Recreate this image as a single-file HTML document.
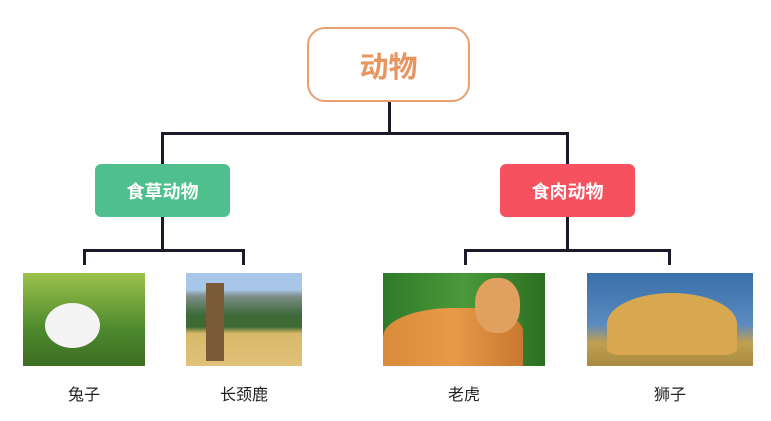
<!DOCTYPE html>
<html><head><meta charset="utf-8"><style>
body{margin:0;width:771px;height:421px;background:#fff;position:relative;overflow:hidden;font-family:"Liberation Sans","Noto Sans CJK SC",sans-serif}
.a{position:absolute}
.l{position:absolute;background:#1a1a2a}
.box{position:absolute;display:flex;align-items:center;justify-content:center;font-weight:bold;color:#fff;border-radius:6px;font-size:18px}
.lbl{position:absolute;width:100px;text-align:center;font-size:16px;color:#222;top:381px}
</style></head><body>
<div class="box" style="left:307px;top:27px;width:159px;height:71px;border:2px solid #e8a070;border-radius:18px;color:#e8955f;font-size:29px;background:#fff">动物</div>
<div class="l" style="left:388px;top:102px;width:3px;height:31px"></div>
<div class="l" style="left:161px;top:132px;width:408px;height:3px"></div>
<div class="l" style="left:161px;top:132px;width:3px;height:32px"></div>
<div class="l" style="left:566px;top:132px;width:3px;height:32px"></div>
<div class="box" style="left:95px;top:164px;width:135px;height:53px;background:#4fc08d">食草动物</div>
<div class="box" style="left:500px;top:164px;width:135px;height:53px;background:#f5515f">食肉动物</div>
<div class="l" style="left:161px;top:217px;width:3px;height:34px"></div>
<div class="l" style="left:83px;top:249px;width:162px;height:3px"></div>
<div class="l" style="left:83px;top:249px;width:3px;height:16px"></div>
<div class="l" style="left:242px;top:249px;width:3px;height:16px"></div>
<div class="l" style="left:566px;top:217px;width:3px;height:34px"></div>
<div class="l" style="left:464px;top:249px;width:207px;height:3px"></div>
<div class="l" style="left:464px;top:249px;width:3px;height:16px"></div>
<div class="l" style="left:668px;top:249px;width:3px;height:16px"></div>
<div class="a" style="left:23px;top:273px;width:122px;height:93px;background:linear-gradient(180deg,#9bc24a,#4e8a2e 60%,#3d6e22)"><div class="a" style="left:22px;top:30px;width:55px;height:45px;border-radius:50%;background:#f4f4f4"></div></div>
<div class="a" style="left:186px;top:273px;width:116px;height:93px;background:linear-gradient(180deg,#a8c6e8 0,#a8c6e8 18%,#7d8f88 25%,#3f6a3a 45%,#3d6a32 58%,#d8b868 65%,#e2c27a)"><div class="a" style="left:20px;top:10px;width:18px;height:78px;background:#7a5a38"></div></div>
<div class="a" style="left:383px;top:273px;width:162px;height:93px;background:linear-gradient(90deg,#2f7a2a,#4a9a3a 50%,#2c6e22)"><div class="a" style="left:0;top:35px;width:140px;height:58px;border-radius:50% 40% 0 0;background:linear-gradient(90deg,#d98a3a,#e89a48,#c87830)"></div><div class="a" style="left:92px;top:5px;width:45px;height:55px;border-radius:45%;background:#e0a060"></div></div>
<div class="a" style="left:587px;top:273px;width:166px;height:93px;background:linear-gradient(180deg,#3a6fa8,#5a8ac0 55%,#c0a050 75%,#a88a40)"><div class="a" style="left:20px;top:20px;width:130px;height:62px;border-radius:50% 50% 10% 10%;background:#d8a850"></div></div>
<div class="lbl" style="left:34px">兔子</div>
<div class="lbl" style="left:194px">长颈鹿</div>
<div class="lbl" style="left:414px">老虎</div>
<div class="lbl" style="left:620px">狮子</div>
</body></html>
